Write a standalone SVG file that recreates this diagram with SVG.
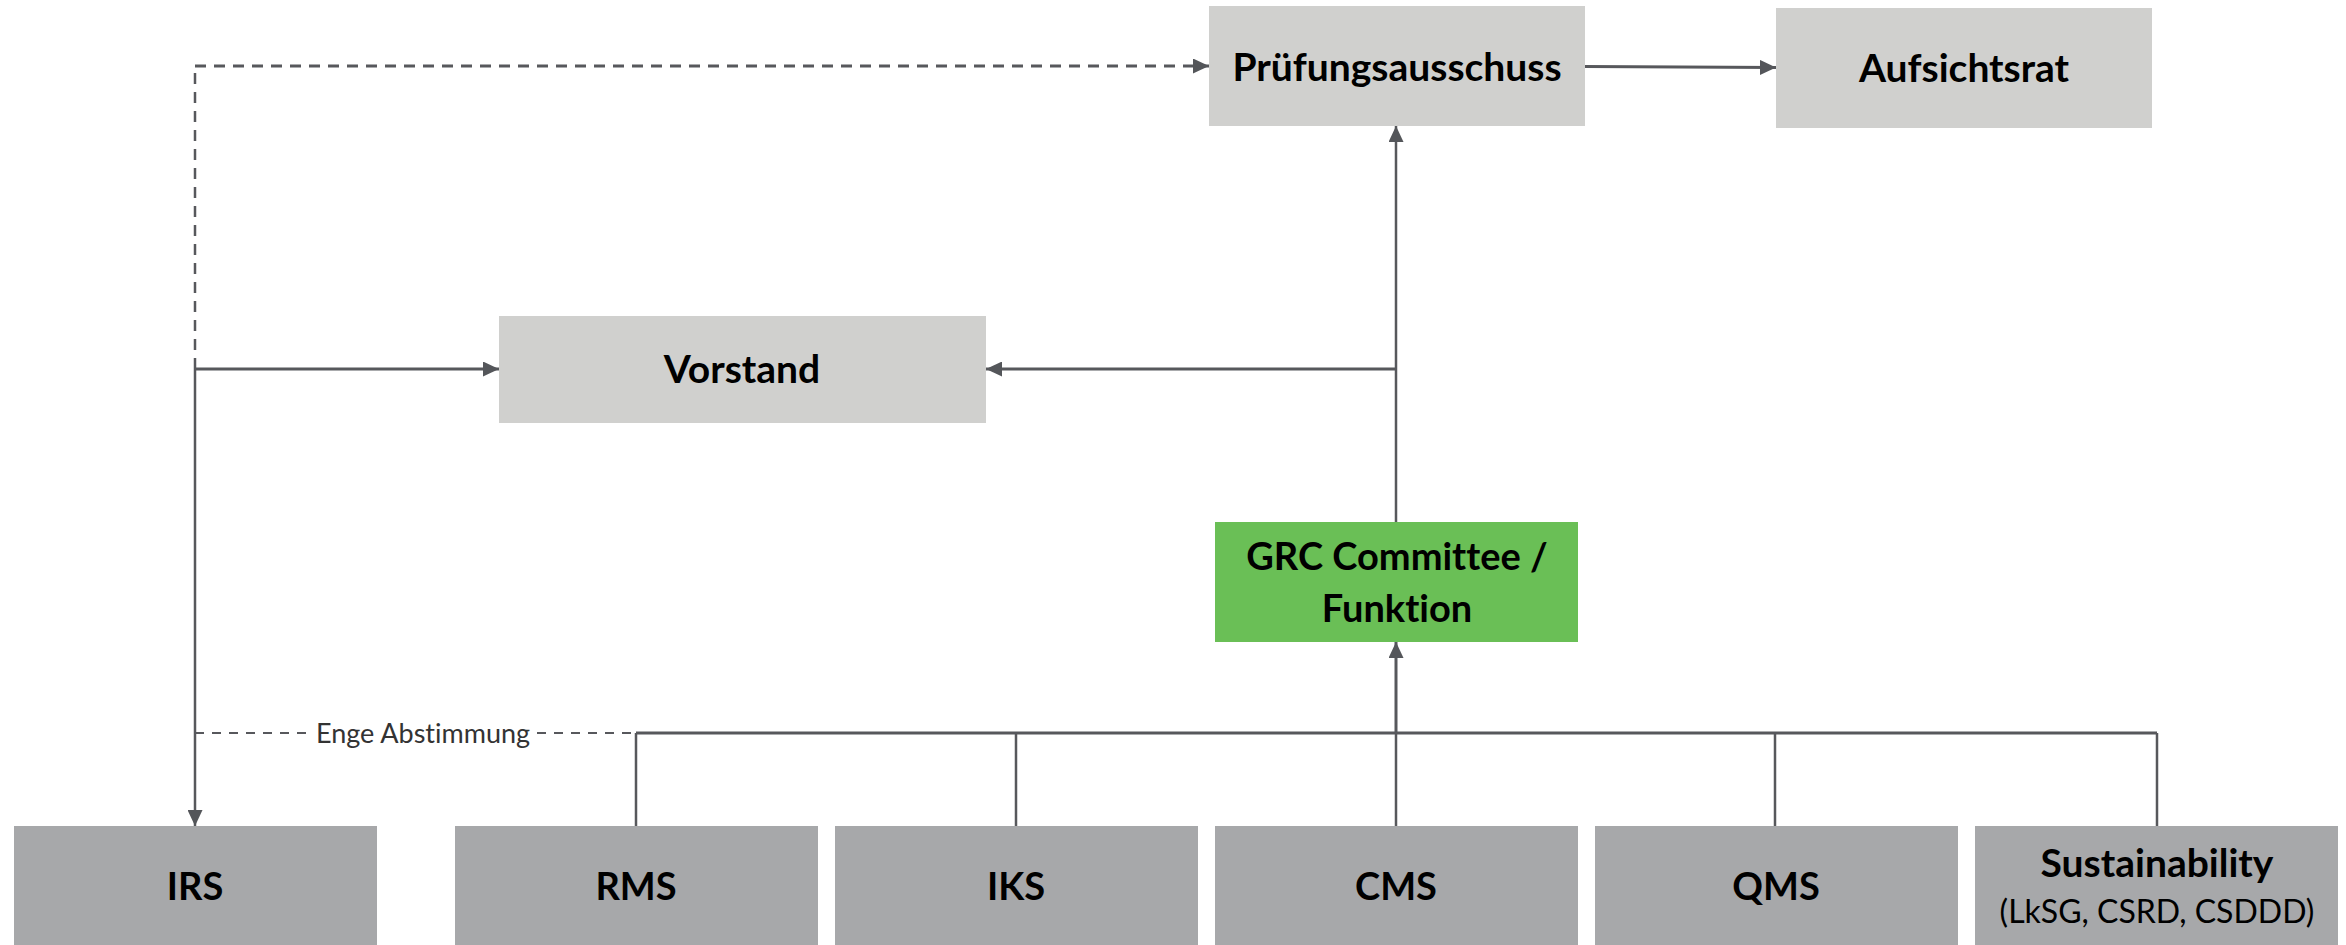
<svg xmlns="http://www.w3.org/2000/svg" width="2346" height="945" viewBox="0 0 2346 945">
<defs>
<style>
.top{fill:#d0d0ce}
.bot{fill:#a7a8aa}
.grc{fill:#6abf56}
text{font-variant-ligatures:none}
.lbl{font-family:Lato,"Liberation Sans",sans-serif;font-weight:bold;fill:#000;text-anchor:middle}
.sub{font-family:Lato,"Liberation Sans",sans-serif;font-weight:normal;fill:#000;text-anchor:middle}
.note{font-family:Lato,"Liberation Sans",sans-serif;font-size:27px;fill:#333;text-anchor:middle}
.ln{fill:none;stroke:#57585c;stroke-width:2.5}
.lnb{fill:none;stroke:#57585c;stroke-width:3}
.dash{fill:none;stroke:#57585c;stroke-width:3;stroke-dasharray:11 8}
.dashv{fill:none;stroke:#57585c;stroke-width:2.5;stroke-dasharray:11 8}
.dashs{fill:none;stroke:#57585c;stroke-width:2;stroke-dasharray:9 8}
</style>
<marker id="ah" viewBox="0 0 16 15" refX="16" refY="7.5" markerWidth="16" markerHeight="15" markerUnits="userSpaceOnUse" orient="auto">
<path d="M0,0 L16,7.5 L0,15 Z" fill="#54565a"/>
</marker>
</defs>

<g id="connectors">
<path class="dashv" d="M195,369 V66"/>
<path class="dash" d="M195,66 H1209" marker-end="url(#ah)"/>
<path class="lnb" d="M1585,66.5 L1776,67.5" marker-end="url(#ah)"/>
<path class="lnb" d="M195,369 H499" marker-end="url(#ah)"/>
<path class="ln" d="M195,369 V826" marker-end="url(#ah)"/>
<path class="lnb" d="M1396,369 H986" marker-end="url(#ah)"/>
<path class="ln" d="M1396,522 V126" marker-end="url(#ah)"/>
<path class="lnb" d="M1396,733 V642" marker-end="url(#ah)"/>
<path class="dashs" d="M195,733 H310"/>
<path class="dashs" d="M537,733 H636"/>
<path class="lnb" d="M636,733 H2157"/>
<path class="ln" d="M636,733 V826 M1016,733 V826 M1396,733 V826 M1775,733 V826 M2157,733 V826"/>
<text class="note" x="423" y="743">Enge Abstimmung</text>
</g>

<g id="pruefungsausschuss">
<rect class="top" x="1209" y="6" width="376" height="120"/>
<text class="lbl" x="1397" y="81" font-size="39">Prüfungsausschuss</text>
</g>
<g id="aufsichtsrat">
<rect class="top" x="1776" y="8" width="376" height="120"/>
<text class="lbl" x="1964" y="82" font-size="39">Aufsichtsrat</text>
</g>
<g id="vorstand">
<rect class="top" x="499" y="316" width="487" height="107"/>
<text class="lbl" x="742" y="383" font-size="39">Vorstand</text>
</g>
<g id="grc">
<rect class="grc" x="1215" y="522" width="363" height="120"/>
<text class="lbl" x="1397" y="570" font-size="38">GRC Committee /</text>
<text class="lbl" x="1397" y="622" font-size="38">Funktion</text>
</g>
<g id="irs">
<rect class="bot" x="14" y="826" width="363" height="119"/>
<text class="lbl" x="195" y="900" font-size="38">IRS</text>
</g>
<g id="rms">
<rect class="bot" x="455" y="826" width="363" height="119"/>
<text class="lbl" x="636" y="900" font-size="38">RMS</text>
</g>
<g id="iks">
<rect class="bot" x="835" y="826" width="363" height="119"/>
<text class="lbl" x="1016" y="900" font-size="38">IKS</text>
</g>
<g id="cms">
<rect class="bot" x="1215" y="826" width="363" height="119"/>
<text class="lbl" x="1396" y="900" font-size="38">CMS</text>
</g>
<g id="qms">
<rect class="bot" x="1595" y="826" width="363" height="119"/>
<text class="lbl" x="1776" y="900" font-size="38">QMS</text>
</g>
<g id="sustainability">
<rect class="bot" x="1975" y="826" width="363" height="119"/>
<text class="lbl" x="2157" y="877" font-size="39">Sustainability</text>
<text class="sub" x="2157" y="923" font-size="32">(LkSG, CSRD, CSDDD)</text>
</g>
</svg>
